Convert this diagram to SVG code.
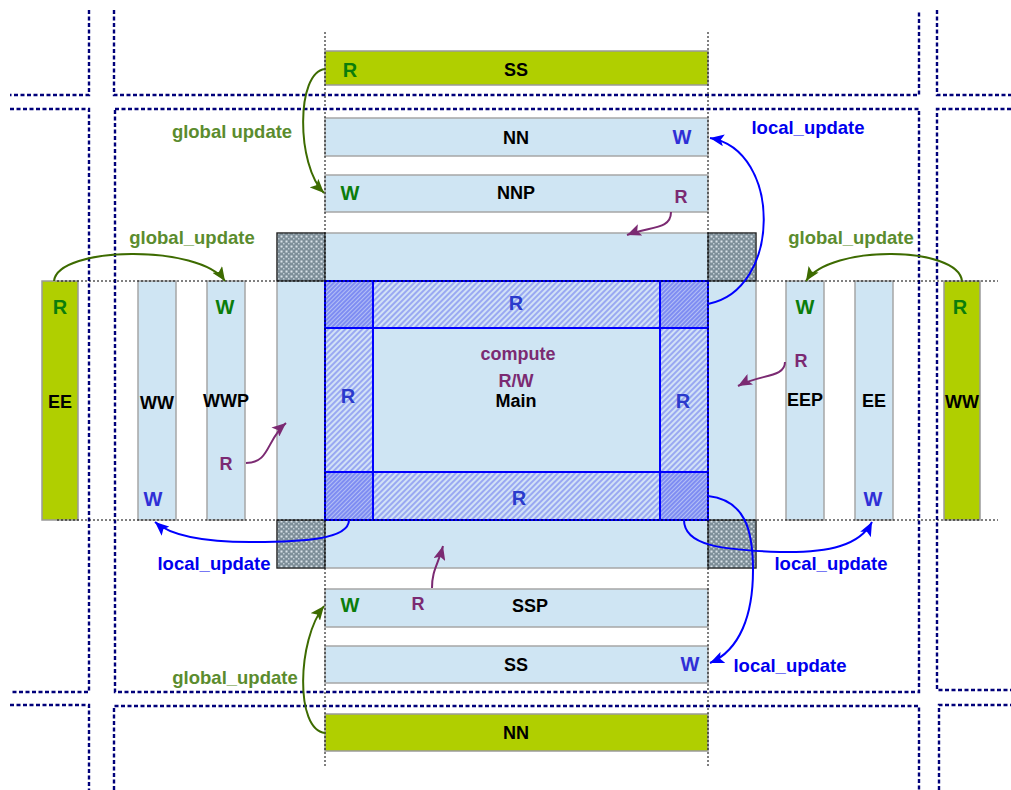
<svg xmlns="http://www.w3.org/2000/svg" width="1011" height="790" viewBox="0 0 1011 790">
<style>
text{font-family:"Liberation Sans",Arial,sans-serif;font-weight:bold;font-size:18px;text-anchor:middle}
.big{font-size:20px}
.lbl{font-size:18.5px}
.lb{fill:#000}
.gr{fill:#0b7d0b}
.bl{fill:#2f2fd6}
.mb{fill:#2a3acc}
.pu{fill:#7b2a72}
.gl{fill:#5b8c2e}
.ll{fill:#0000ee}
.box{fill:#cfe5f3;stroke:#a6a6a6;stroke-width:1.5}
.grn{fill:#b0cf00;stroke:#9a9a9a;stroke-width:1.5}
.grid{fill:none;stroke:#00007a;stroke-width:2.4;stroke-dasharray:4 2.5}
.dot{fill:none;stroke:#000;stroke-width:1;stroke-dasharray:2 2}
.blue{stroke:#0000ff;stroke-width:2}
.ga{fill:none;stroke:#3d6b00;stroke-width:2}
.la{fill:none;stroke:#0000ff;stroke-width:2}
.pa{fill:none;stroke:#7b2a72;stroke-width:2}
.cs{fill:url(#cross);stroke:#222;stroke-width:1.2}
</style>
<defs>
<pattern id="hatch" width="4" height="4" patternUnits="userSpaceOnUse" patternTransform="rotate(45)">
<rect width="4" height="4" fill="#d2e2f6"/>
<line x1="1" y1="0" x2="1" y2="4" stroke="#7482f0" stroke-width="1.2"/>
</pattern>
<pattern id="hatch2" width="3" height="3" patternUnits="userSpaceOnUse" patternTransform="rotate(45)">
<rect width="3" height="3" fill="#b4c0f5"/>
<line x1="1" y1="0" x2="1" y2="3" stroke="#5262f0" stroke-width="1.1"/>
</pattern>
<pattern id="cross" width="5" height="5" patternUnits="userSpaceOnUse">
<rect width="5" height="5" fill="#7d8e98"/>
<rect x="0.5" y="0.5" width="2" height="2" fill="#dbe4ea"/>
<rect x="3" y="3" width="1.5" height="1.5" fill="#c0ccd4"/>
</pattern>
<marker id="ag" markerUnits="userSpaceOnUse" markerWidth="16" markerHeight="12" refX="14" refY="6" orient="auto"><path d="M0,0 L14,6 L0,12 L3,6 z" fill="#3d6b00"/></marker>
<marker id="al" markerUnits="userSpaceOnUse" markerWidth="16" markerHeight="12" refX="14" refY="6" orient="auto"><path d="M0,0 L14,6 L0,12 L3,6 z" fill="#0000ff"/></marker>
<marker id="ap" markerUnits="userSpaceOnUse" markerWidth="16" markerHeight="12" refX="14" refY="6" orient="auto"><path d="M0,0 L14,6 L0,12 L3,6 z" fill="#7b2a72"/></marker>
</defs>
<rect width="1011" height="790" fill="#fff"/>
<g id="grid">
<path class="grid" d="M89,10 V95 H10"/>
<path class="grid" d="M114,10 V95 H919 V10"/>
<path class="grid" d="M937,10 V95 H1011"/>
<path class="grid" d="M10,109 H89 V692 H10"/>
<path class="grid" d="M115,109 H919 V692 H115 Z"/>
<path class="grid" d="M1011,109 H937 V690 H1011"/>
<path class="grid" d="M10,705 H89 V790"/>
<path class="grid" d="M114,790 V706 H919 V790"/>
<path class="grid" d="M939,790 V705 H1011"/>
</g>
<g id="node-ss-top"><rect class="grn" x="325" y="51" width="383" height="34"/><text class="gr big" x="350" y="77">R</text><text class="lb" x="516" y="76">SS</text></g>
<g id="node-nn-top"><rect class="box" x="325" y="118" width="383" height="38"/><text class="lb" x="516" y="144">NN</text><text class="bl big" x="682" y="144">W</text></g>
<g id="node-nnp"><rect class="box" x="325" y="175" width="383" height="37"/><text class="gr big" x="350" y="200">W</text><text class="lb" x="516" y="199">NNP</text><text class="pu" x="681" y="203">R</text></g>
<g id="node-ssp"><rect class="box" x="325" y="589" width="383" height="38"/><text class="gr big" x="350" y="612">W</text><text class="pu" x="418" y="610">R</text><text class="lb" x="530" y="612">SSP</text></g>
<g id="node-ss-bot"><rect class="box" x="325" y="646" width="383" height="37"/><text class="lb" x="516" y="671">SS</text><text class="bl big" x="690" y="671">W</text></g>
<g id="node-nn-bot"><rect class="grn" x="325" y="714" width="383" height="37"/><text class="lb" x="516" y="739">NN</text></g>
<g id="node-ee-left"><rect class="grn" x="42" y="281" width="36" height="239"/><text class="gr big" x="60" y="314">R</text><text class="lb" x="60" y="408">EE</text></g>
<g id="node-ww"><rect class="box" x="138" y="281" width="38" height="239"/><text class="lb" x="157" y="409">WW</text><text class="bl big" x="153" y="506">W</text></g>
<g id="node-wwp"><rect class="box" x="207" y="281" width="38" height="239"/><text class="gr big" x="225" y="314">W</text><text class="lb" x="226" y="407">WWP</text><text class="pu" x="226" y="470">R</text></g>
<g id="node-eep"><rect class="box" x="786" y="281" width="38" height="239"/><text class="gr big" x="805" y="314">W</text><text class="pu" x="801" y="367">R</text><text class="lb" x="805" y="406">EEP</text></g>
<g id="node-ee"><rect class="box" x="855" y="281" width="38" height="239"/><text class="lb" x="874" y="407">EE</text><text class="bl big" x="873" y="506">W</text></g>
<g id="node-ww-right"><rect class="grn" x="944" y="281" width="36" height="239"/><text class="gr big" x="960" y="314">R</text><text class="lb" x="962" y="408">WW</text></g>
<g id="node-halo">
<rect class="box" x="277" y="233" width="479" height="335"/>
<rect class="cs" x="277" y="233" width="48" height="48"/>
<rect class="cs" x="708" y="233" width="48" height="48"/>
<rect class="cs" x="277" y="520" width="48" height="48"/>
<rect class="cs" x="708" y="520" width="48" height="48"/>
</g>
<g id="node-main">
<rect x="325" y="281" width="383" height="239" fill="url(#hatch)"/>
<rect x="325" y="281" width="48" height="47" fill="url(#hatch2)"/>
<rect x="660" y="281" width="48" height="47" fill="url(#hatch2)"/>
<rect x="325" y="472" width="48" height="48" fill="url(#hatch2)"/>
<rect x="660" y="472" width="48" height="48" fill="url(#hatch2)"/>
<rect x="373" y="328" width="287" height="144" fill="#cfe5f3"/>
<g class="blue" fill="none">
<rect x="325" y="281" width="383" height="239"/>
<line x1="325" y1="328" x2="708" y2="328"/>
<line x1="325" y1="472" x2="708" y2="472"/>
<line x1="373" y1="281" x2="373" y2="520"/>
<line x1="660" y1="281" x2="660" y2="520"/>
</g>
<text class="mb big" x="516" y="310">R</text>
<text class="mb big" x="348" y="403">R</text>
<text class="mb big" x="683" y="408">R</text>
<text class="mb big" x="519" y="505">R</text>
<text class="pu" x="518" y="360">compute</text>
<text class="pu" x="516" y="387">R/W</text>
<text class="lb" x="516" y="407">Main</text>
</g>
<g id="guides">
<line class="dot" x1="325" y1="32" x2="325" y2="768"/>
<line class="dot" x1="708" y1="32" x2="708" y2="768"/>
<line class="dot" x1="57" y1="281" x2="998" y2="281"/>
<line class="dot" x1="57" y1="520" x2="998" y2="520"/>
</g>
<g id="connectors">
<path class="ga" d="M325,69 C296,72 296,165 324,193" marker-end="url(#ag)"/>
<path class="ga" d="M325,733 C295,730 297,640 324,606" marker-end="url(#ag)"/>
<path class="ga" d="M54,281 C58,246 200,244 225,281" marker-end="url(#ag)"/>
<path class="ga" d="M962,281 C958,246 830,244 806,281" marker-end="url(#ag)"/>
<path class="la" d="M708,304 C782,290 782,150 710,138" marker-end="url(#al)"/>
<path class="la" d="M708,496 C745,500 753,530 753,570 C753,615 740,650 710,663" marker-end="url(#al)"/>
<path class="la" d="M684,520 C684,545 720,550 780,552 C830,553 860,545 872,522" marker-end="url(#al)"/>
<path class="la" d="M349,520 C349,540 300,542 250,542 C200,542 170,535 155,522" marker-end="url(#al)"/>
<path class="pa" d="M671,212 C671,230 650,226 627,235" marker-end="url(#ap)"/>
<path class="pa" d="M246,463 C270,463 266,440 286,423" marker-end="url(#ap)"/>
<path class="pa" d="M785,362 C785,378 760,374 738,386" marker-end="url(#ap)"/>
<path class="pa" d="M432,588 C432,570 438,565 443,546" marker-end="url(#ap)"/>
</g>
<g id="labels">
<text class="gl lbl" x="232" y="138">global update</text>
<text class="gl lbl" x="192" y="244">global_update</text>
<text class="gl lbl" x="851" y="244">global_update</text>
<text class="gl lbl" x="235" y="684">global_update</text>
<text class="ll lbl" x="808" y="134">local_update</text>
<text class="ll lbl" x="214" y="570">local_update</text>
<text class="ll lbl" x="831" y="570">local_update</text>
<text class="ll lbl" x="790" y="672">local_update</text>
</g>
</svg>
